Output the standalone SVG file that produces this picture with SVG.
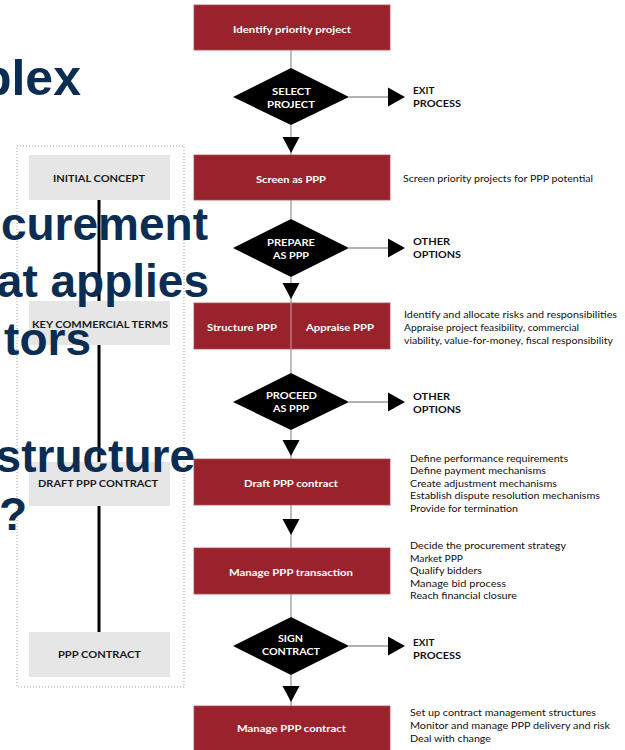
<svg xmlns="http://www.w3.org/2000/svg" width="625" height="750" viewBox="0 0 625 750">
<style>
.box{fill:#99232d;stroke:#b04a53;stroke-width:0.8}
.dia{fill:#000}
.gbox{fill:#e6e6e6}
.con{stroke:#9a9a9a;stroke-width:1.3;fill:none}
.ah{fill:#000}
.bl{font-family:Lato,"Open Sans","Liberation Sans",sans-serif;font-weight:700;font-size:10px;fill:#fff;text-anchor:middle}
.dl{font-family:Lato,"Open Sans","Liberation Sans",sans-serif;font-weight:700;font-size:10px;fill:#fff;text-anchor:middle}
.gl{font-family:Lato,"Open Sans","Liberation Sans",sans-serif;font-weight:700;font-size:10px;fill:#1a1a1a;text-anchor:middle}
.sl{font-family:Lato,"Open Sans","Liberation Sans",sans-serif;font-weight:700;font-size:10px;fill:#111}
.ds{font-family:Lato,"Open Sans","Liberation Sans",sans-serif;font-size:10px;fill:#111}
.ov{font-family:"Liberation Sans",Arial,sans-serif;font-weight:700;font-size:46px;fill:#0c2d52;text-anchor:end}
</style>
<rect width="625" height="750" fill="#fff"/>

<g id="stages">
  <rect x="17" y="146" width="167" height="541" fill="none" stroke="#a0a0a0" stroke-width="1" stroke-dasharray="1,2"/>
  <g id="stage-line">
    <line x1="99" y1="200" x2="99" y2="301" stroke="#000" stroke-width="3"/>
    <line x1="99" y1="345" x2="99" y2="462" stroke="#000" stroke-width="3"/>
    <line x1="99" y1="506" x2="99" y2="632" stroke="#000" stroke-width="3"/>
  </g>
  <g id="initial-concept">
    <rect class="gbox" x="29" y="155" width="141" height="45"/>
    <text class="gl" x="99" y="182" textLength="92" lengthAdjust="spacingAndGlyphs">INITIAL CONCEPT</text>
  </g>
  <g id="key-commercial-terms">
    <rect class="gbox" x="29" y="301" width="141" height="44"/>
    <text class="gl" x="100" y="328" textLength="136" lengthAdjust="spacingAndGlyphs">KEY COMMERCIAL TERMS</text>
  </g>
  <g id="draft-ppp-contract-stage">
    <rect class="gbox" x="29" y="462" width="141" height="44"/>
    <text class="gl" x="98" y="487" textLength="120" lengthAdjust="spacingAndGlyphs">DRAFT PPP CONTRACT</text>
  </g>
  <g id="ppp-contract-stage">
    <rect class="gbox" x="29" y="632" width="141" height="45"/>
    <text class="gl" x="99.5" y="658" textLength="83" lengthAdjust="spacingAndGlyphs">PPP CONTRACT</text>
  </g>
</g>

<g id="connectors">
  <line class="con" x1="291" y1="50" x2="291" y2="68"/>
  <line class="con" x1="291" y1="125" x2="291" y2="155"/>
  <line class="con" x1="291" y1="200" x2="291" y2="219"/>
  <line class="con" x1="291" y1="277" x2="291" y2="349"/>
  <line class="con" x1="291" y1="349" x2="291" y2="373"/>
  <line class="con" x1="291" y1="430" x2="291" y2="459"/>
  <line class="con" x1="291" y1="505" x2="291" y2="548"/>
  <line class="con" x1="291" y1="594" x2="291" y2="617"/>
  <line class="con" x1="291" y1="675" x2="291" y2="706"/>
  <line class="con" x1="349" y1="97" x2="390" y2="97"/>
  <line class="con" x1="349" y1="248" x2="390" y2="248"/>
  <line class="con" x1="349" y1="402" x2="390" y2="402"/>
  <line class="con" x1="349" y1="646" x2="390" y2="646"/>
  <polygon class="ah" points="282.5,137 299.5,137 291,153"/>
  <polygon class="ah" points="282.5,283 299.5,283 291,299"/>
  <polygon class="ah" points="282.5,440 299.5,440 291,456"/>
  <polygon class="ah" points="282.5,519 299.5,519 291,535"/>
  <polygon class="ah" points="282.5,686 299.5,686 291,702"/>
  <polygon class="ah" points="388,87.5 388,106.5 405,97"/>
  <polygon class="ah" points="388,238.5 388,257.5 405,248"/>
  <polygon class="ah" points="388,392.5 388,411.5 405,402"/>
  <polygon class="ah" points="388,636.5 388,655.5 405,646"/>
</g>

<g id="identify-priority-project">
  <rect class="box" x="194" y="5" width="196" height="45"/>
  <text class="bl" x="292" y="33" textLength="118" lengthAdjust="spacingAndGlyphs">Identify priority project</text>
</g>
<g id="select-project">
  <polygon class="dia" points="291,68 349,97 291,125 233,97"/>
  <text class="dl" x="291.5" y="95" textLength="39" lengthAdjust="spacingAndGlyphs">SELECT</text>
  <text class="dl" x="291" y="107.5" textLength="48" lengthAdjust="spacingAndGlyphs">PROJECT</text>
</g>
<g id="exit-process-1">
  <text class="sl" x="413" y="94">EXIT</text>
  <text class="sl" x="413" y="107" textLength="48" lengthAdjust="spacingAndGlyphs">PROCESS</text>
</g>
<g id="screen-as-ppp">
  <rect class="box" x="194" y="155" width="196" height="45"/>
  <text class="bl" x="291" y="183" textLength="70" lengthAdjust="spacingAndGlyphs">Screen as PPP</text>
  <text class="ds" x="403" y="181.5" textLength="190" lengthAdjust="spacingAndGlyphs">Screen priority projects for PPP potential</text>
</g>
<g id="prepare-as-ppp">
  <polygon class="dia" points="291,219 349,248 291,277 233,248"/>
  <text class="dl" x="291" y="246" textLength="48" lengthAdjust="spacingAndGlyphs">PREPARE</text>
  <text class="dl" x="291" y="258.5" textLength="36" lengthAdjust="spacingAndGlyphs">AS PPP</text>
</g>
<g id="other-options-1">
  <text class="sl" x="413" y="245" textLength="37" lengthAdjust="spacingAndGlyphs">OTHER</text>
  <text class="sl" x="413" y="258" textLength="48" lengthAdjust="spacingAndGlyphs">OPTIONS</text>
</g>
<g id="structure-appraise-ppp">
  <rect class="box" x="194" y="303" width="196" height="46"/>
  <line x1="291" y1="303" x2="291" y2="349" stroke="#c8a0a4" stroke-width="1"/>
  <text class="bl" x="242" y="331" textLength="70" lengthAdjust="spacingAndGlyphs">Structure PPP</text>
  <text class="bl" x="340" y="331" textLength="68" lengthAdjust="spacingAndGlyphs">Appraise PPP</text>
  <text class="ds" x="404" y="317.5" textLength="213" lengthAdjust="spacingAndGlyphs">Identify and allocate risks and responsibilities</text>
  <text class="ds" x="404" y="330.5" textLength="175" lengthAdjust="spacingAndGlyphs">Appraise project feasibility, commercial</text>
  <text class="ds" x="404" y="343.5" textLength="209" lengthAdjust="spacingAndGlyphs">viability, value-for-money, fiscal responsibility</text>
</g>
<g id="proceed-as-ppp">
  <polygon class="dia" points="291,373 349,402 291,430 233,402"/>
  <text class="dl" x="291.5" y="399" textLength="51" lengthAdjust="spacingAndGlyphs">PROCEED</text>
  <text class="dl" x="291" y="412" textLength="36" lengthAdjust="spacingAndGlyphs">AS PPP</text>
</g>
<g id="other-options-2">
  <text class="sl" x="413" y="400" textLength="37" lengthAdjust="spacingAndGlyphs">OTHER</text>
  <text class="sl" x="413" y="413" textLength="48" lengthAdjust="spacingAndGlyphs">OPTIONS</text>
</g>
<g id="draft-ppp-contract">
  <rect class="box" x="194" y="459" width="196" height="46"/>
  <text class="bl" x="291" y="487" textLength="94" lengthAdjust="spacingAndGlyphs">Draft PPP contract</text>
  <text class="ds" x="410" y="461.5" textLength="158" lengthAdjust="spacingAndGlyphs">Define performance requirements</text>
  <text class="ds" x="410" y="474" textLength="136" lengthAdjust="spacingAndGlyphs">Define payment mechanisms</text>
  <text class="ds" x="410" y="486.5" textLength="147" lengthAdjust="spacingAndGlyphs">Create adjustment mechanisms</text>
  <text class="ds" x="410" y="499" textLength="190" lengthAdjust="spacingAndGlyphs">Establish dispute resolution mechanisms</text>
  <text class="ds" x="410" y="512" textLength="108" lengthAdjust="spacingAndGlyphs">Provide for termination</text>
</g>
<g id="manage-ppp-transaction">
  <rect class="box" x="194" y="548" width="196" height="46"/>
  <text class="bl" x="291" y="576" textLength="124" lengthAdjust="spacingAndGlyphs">Manage PPP transaction</text>
  <text class="ds" x="410" y="549" textLength="156" lengthAdjust="spacingAndGlyphs">Decide the procurement strategy</text>
  <text class="ds" x="410" y="561.5" textLength="53" lengthAdjust="spacingAndGlyphs">Market PPP</text>
  <text class="ds" x="410" y="574" textLength="72" lengthAdjust="spacingAndGlyphs">Qualify bidders</text>
  <text class="ds" x="410" y="586.5" textLength="96" lengthAdjust="spacingAndGlyphs">Manage bid process</text>
  <text class="ds" x="410" y="599" textLength="107" lengthAdjust="spacingAndGlyphs">Reach financial closure</text>
</g>
<g id="sign-contract">
  <polygon class="dia" points="291,617 349,646 291,675 233,646"/>
  <text class="dl" x="290.5" y="642" textLength="25" lengthAdjust="spacingAndGlyphs">SIGN</text>
  <text class="dl" x="291" y="655" textLength="58" lengthAdjust="spacingAndGlyphs">CONTRACT</text>
</g>
<g id="exit-process-2">
  <text class="sl" x="413" y="646">EXIT</text>
  <text class="sl" x="413" y="658.5" textLength="48" lengthAdjust="spacingAndGlyphs">PROCESS</text>
</g>
<g id="manage-ppp-contract">
  <rect class="box" x="194" y="706" width="196" height="46"/>
  <text class="bl" x="291.5" y="732" textLength="109" lengthAdjust="spacingAndGlyphs">Manage PPP contract</text>
  <text class="ds" x="410" y="715.5" textLength="186" lengthAdjust="spacingAndGlyphs">Set up contract management structures</text>
  <text class="ds" x="410" y="729" textLength="200" lengthAdjust="spacingAndGlyphs">Monitor and manage PPP delivery and risk</text>
  <text class="ds" x="410" y="741.5" textLength="81" lengthAdjust="spacingAndGlyphs">Deal with change</text>
</g>

<g id="overlay-title">
  <text class="ov" x="81" y="95" style="font-size:50px">plex</text>
  <text class="ov" x="208" y="240">curement</text>
  <text class="ov" x="209" y="297">at applies</text>
  <text class="ov" x="91" y="355">tors</text>
  <text class="ov" x="195" y="472">structure</text>
  <text class="ov" x="27" y="530">?</text>
</g>
</svg>
